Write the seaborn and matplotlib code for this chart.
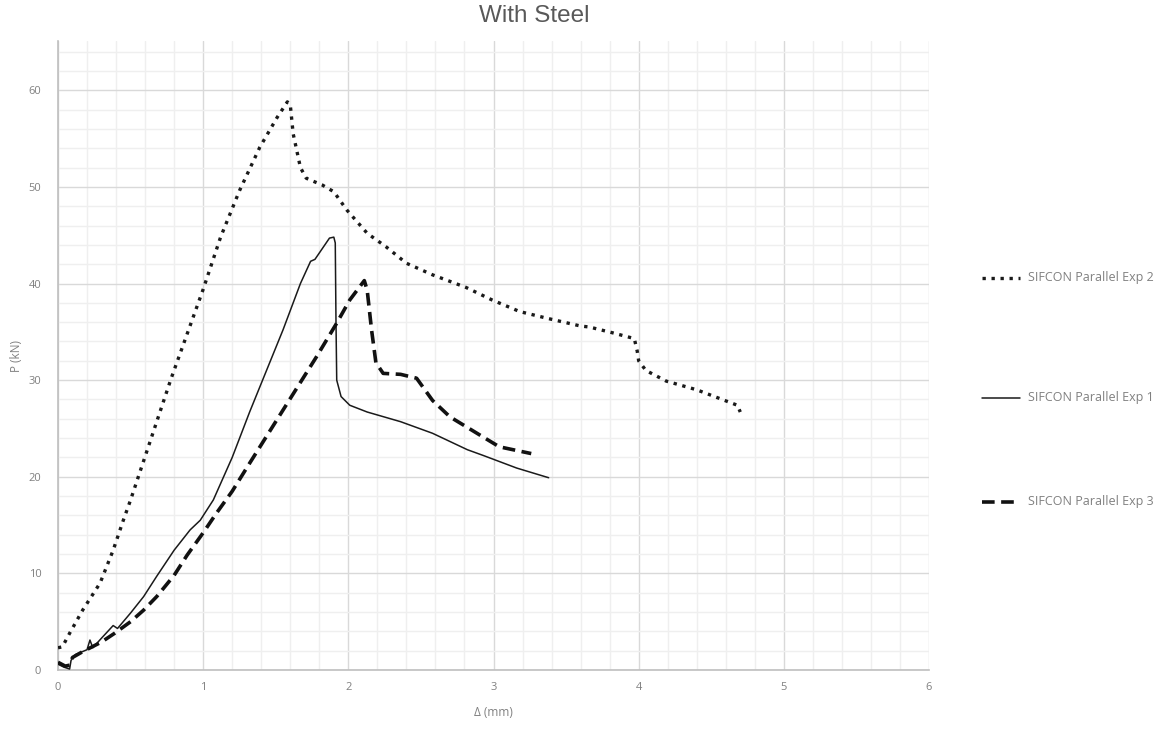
import matplotlib
matplotlib.use("Agg")
import matplotlib.pyplot as plt
from matplotlib.ticker import MultipleLocator
from matplotlib.lines import Line2D
import seaborn as sns
import pandas as pd

# Load-deflection readings, Δ in mm and P in kN
exp2_delta = [0.0, 0.03, 0.08, 0.17, 0.29, 0.38, 0.45, 0.50, 0.62, 0.78, 1.00, 1.12,
              1.25, 1.39, 1.51, 1.58, 1.60, 1.62, 1.67, 1.71, 1.74, 1.82, 1.90, 1.99,
              2.13, 2.26, 2.40, 2.58, 2.81, 2.99, 3.18, 3.37, 3.60, 3.66, 3.82, 3.97,
              3.99, 4.00, 4.05, 4.19, 4.40, 4.61, 4.68, 4.70]
exp2_load = [2.3, 2.4, 3.8, 6.2, 9.0, 12.4, 15.5, 17.6, 23.0, 30.2, 39.4, 44.8,
             49.6, 54.1, 57.2, 58.8, 58.5, 55.5, 52.0, 50.9, 50.7, 50.2, 49.5, 47.6,
             45.2, 43.8, 42.1, 40.9, 39.6, 38.3, 37.1, 36.4, 35.6, 35.5, 34.9, 34.3,
             33.0, 32.0, 31.0, 29.9, 29.0, 27.8, 27.4, 26.7]

exp1_delta = [0.0, 0.04, 0.08, 0.09, 0.12, 0.20, 0.22, 0.24, 0.30, 0.38, 0.41, 0.50,
              0.59, 0.68, 0.80, 0.91, 0.98, 1.07, 1.20, 1.32, 1.55, 1.67, 1.74, 1.77,
              1.87, 1.90, 1.91, 1.915, 1.92, 1.95, 2.01, 2.13, 2.36, 2.58, 2.82, 2.93,
              3.16, 3.38]
exp1_load = [0.6, 0.3, 0.1, 1.0, 1.6, 2.1, 3.1, 2.3, 3.3, 4.6, 4.3, 5.9,
             7.6, 9.7, 12.4, 14.5, 15.5, 17.6, 22.0, 26.7, 35.2, 40.0, 42.3, 42.5,
             44.7, 44.8, 44.2, 36.0, 30.0, 28.3, 27.4, 26.7, 25.7, 24.5, 22.8, 22.2,
             20.9, 19.9]

exp3_delta = [0.0, 0.05, 0.08, 0.10, 0.17, 0.30, 0.39, 0.50, 0.59, 0.68, 0.80, 0.89,
              1.00, 1.09, 1.20, 1.32, 1.55, 1.78, 1.92, 2.01, 2.11, 2.13, 2.16, 2.19,
              2.24, 2.36, 2.47, 2.58, 2.70, 2.93, 3.04, 3.26]
exp3_load = [0.8, 0.4, 0.5, 1.3, 1.9, 2.9, 3.8, 5.0, 6.2, 7.6, 9.8, 11.9,
             14.2, 16.2, 18.5, 21.4, 26.9, 32.4, 35.9, 38.3, 40.3, 39.3, 35.2, 31.8,
             30.7, 30.6, 30.2, 27.9, 26.2, 24.1, 23.1, 22.4]

series_labels = ["SIFCON Parallel Exp 2", "SIFCON Parallel Exp 1", "SIFCON Parallel Exp 3"]

sns.set_theme(style="white")
plt.rcParams["font.family"] = ["Open Sans", "DejaVu Sans"]

fig = plt.figure(figsize=(11.76, 7.31), dpi=100)
ax = fig.add_axes([58 / 1176, 1 - 670 / 731, (929 - 58) / 1176, (670 - 41) / 731])

styles = {
    series_labels[0]: dict(color="#1a1a1a", linewidth=2.4, linestyle=(0, (1, 1.7))),
    series_labels[1]: dict(color="#1a1a1a", linewidth=1.1, linestyle="-"),
    series_labels[2]: dict(color="#111111", linewidth=2.6, linestyle=(0, (3.5, 1.8))),
}

for label, dx, py in zip(series_labels,
                         [exp2_delta, exp1_delta, exp3_delta],
                         [exp2_load, exp1_load, exp3_load]):
    df = pd.DataFrame({"delta": dx, "load": py})
    st = styles[label]
    sns.lineplot(data=df, x="delta", y="load", sort=False, estimator=None, ax=ax,
                 color=st["color"], linewidth=st["linewidth"], legend=False,
                 zorder=3)
    ax.lines[-1].set_linestyle(st["linestyle"])
    ax.lines[-1].set_dash_capstyle("butt")

ax.set_xlim(0, 6)
ax.set_ylim(0, 65.1)
ax.xaxis.set_major_locator(MultipleLocator(1))
ax.xaxis.set_minor_locator(MultipleLocator(0.2))
ax.yaxis.set_major_locator(MultipleLocator(10))
ax.yaxis.set_minor_locator(MultipleLocator(2))
ax.grid(which="major", color="#d9d9d9", linewidth=1.0)
ax.grid(which="minor", color="#efefef", linewidth=1.0)
ax.set_axisbelow(True)

for side in ["top", "right"]:
    ax.spines[side].set_visible(False)
for side in ["left", "bottom"]:
    ax.spines[side].set_color("#bfbfbf")
    ax.spines[side].set_linewidth(1.2)

ax.tick_params(which="both", length=0, colors="#808080", labelsize=8)
ax.tick_params(axis="y", pad=12)
ax.tick_params(axis="x", pad=9)

ax.set_xlabel("Δ (mm)", fontsize=8.5, color="#808080", labelpad=9)
ax.set_ylabel("P (kN)", fontsize=8.5, color="#808080", labelpad=4)
fig.text(534 / 1176, 1 - 16 / 731, "With Steel", ha="center", va="center",
         fontsize=17.5, color="#595959", family=["Liberation Sans", "DejaVu Sans"])

# Legend entries stacked down the right margin
legend_y = [278, 398, 502]
for label, ly in zip(series_labels, legend_y):
    st = styles[label]
    yf = 1 - ly / 731
    fig.add_artist(Line2D([982 / 1176, 1020 / 1176], [yf, yf], transform=fig.transFigure,
                          color=st["color"], linewidth=st["linewidth"],
                          linestyle=st["linestyle"]))
    fig.text(1028 / 1176, yf, label, ha="left", va="center", fontsize=9,
             color="#808080")

fig.savefig("out.png", dpi=100, facecolor="white")
